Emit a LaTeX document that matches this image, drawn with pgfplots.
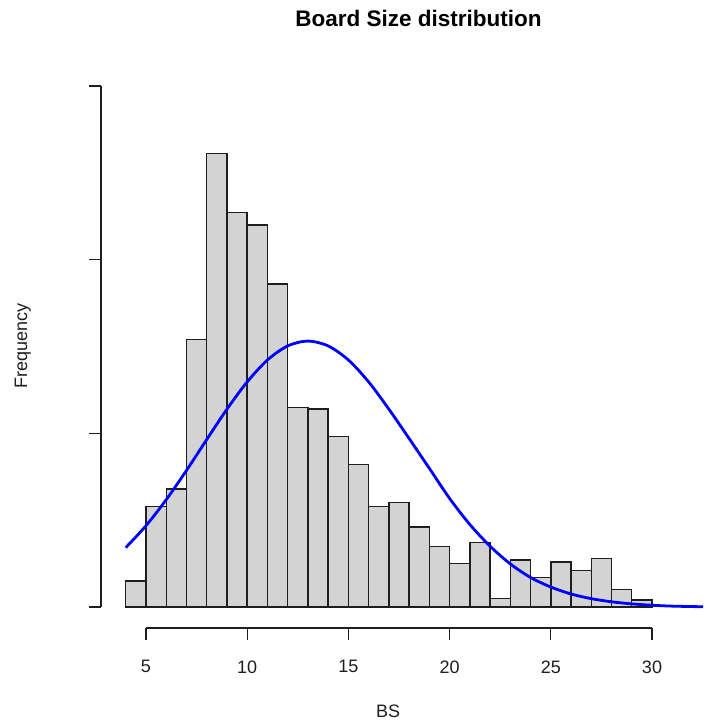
\documentclass[border=0pt]{standalone}
\usepackage{pgfplots}
\pgfplotsset{compat=1.18}
\usepackage{fontspec}
\setmainfont{Liberation Sans}

\definecolor{barfill}{RGB}{211,211,211}
\definecolor{curveblue}{RGB}{0,0,255}
\definecolor{inkdark}{RGB}{30,30,30}

\begin{document}
\begin{tikzpicture}
\useasboundingbox (0,0) rectangle (703pt,727pt);
\begin{axis}[
  at={(101pt,99pt)}, anchor=south west,
  x=20.24pt, y=1.737pt,
  xmin=2.777, xmax=32.52,
  ymin=-12.09, ymax=300,
  axis x line*=bottom, axis y line*=left,
  x axis line style={-, line width=1.3pt, inkdark, shorten <=45pt, shorten >=51pt},
  y axis line style={-, line width=1.3pt, inkdark, shorten <=21pt},
  tick align=outside,
  major tick length=12pt,
  tick style={line width=1.3pt, inkdark},
  xtick={5,10,...,30},
  ytick={0,100,200,300},
  yticklabels={},
  /pgf/number format/assume math mode=true,
  ticklabel style={font=\fontsize{18}{20}\selectfont, text=inkdark},
  xticklabel style={anchor=north, yshift=-17pt},
  title={\textbf{Board Size distribution}},
  title style={at={(axis description cs:0.5274,1.1142)}, anchor=center,
    font=\fontsize{22.5}{26}\selectfont},
  xlabel={BS},
  xlabel style={at={(axis description cs:0.4769,-0.1544)}, anchor=center,
    font=\fontsize{18}{20}\selectfont, text=inkdark},
  ylabel={Frequency},
  ylabel style={at={(axis description cs:-0.1300,0.5202)}, anchor=center, rotate=0,
    font=\fontsize{18}{20}\selectfont, text=inkdark},
]
% histogram of board sizes, unit-width bins from 4 to 30
\addplot[ybar interval, fill=barfill, draw=inkdark, line width=1.4pt] table {
x y
4 15
5 58
6 68
7 154
8 261
9 227
10 220
11 186
12 115
13 114
14 98
15 82
16 58
17 60
18 46
19 35
20 25
21 37
22 5
23 27
24 17
25 26
26 21
27 28
28 10
29 4
30 0
};
% fitted density curve, scaled to counts
\addplot[smooth, curveblue, line width=2.8pt, mark=none] coordinates {
(4,34.2) (5,46.8) (6,61.8) (7,78.6) (8,96.4) (9,113.9) (10,129.6)
(11,142.2) (12,150.3) (13,153.1) (14,150.3) (15,142.2) (16,129.6)
(17,113.9) (18,97.0) (19,79.8) (20,62.5) (21,47.5) (22,35.0)
(23,24.8) (24,17.0) (25,11.5) (26,7.5) (27,4.8) (28,3.0) (29,1.8)
(30,1.0) (31,0.5) (32,0.25) (32.52,0.15)
};
\end{axis}
\end{tikzpicture}
\end{document}
